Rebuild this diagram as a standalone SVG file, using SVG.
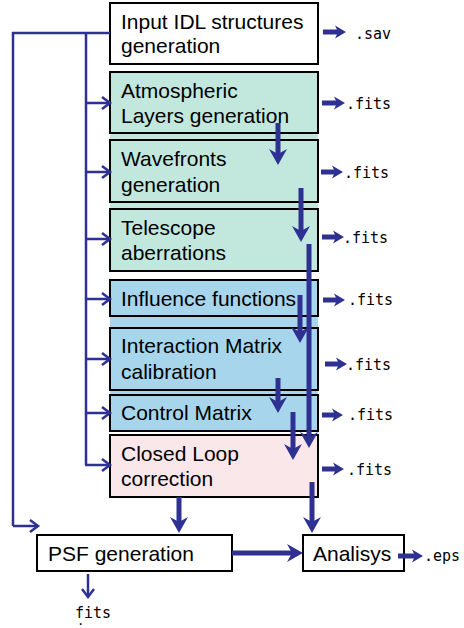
<svg xmlns="http://www.w3.org/2000/svg" width="464" height="628" viewBox="0 0 464 628">
<style>
.box{stroke:#000;stroke-width:2}
.lbl{font-family:"Liberation Sans",Arial,sans-serif;font-size:21px;fill:#000}
.out{font-family:"DejaVu Sans Mono","Liberation Mono",monospace;font-size:15px;fill:#000}
.thin{stroke:#2e3192;stroke-width:2.5;fill:none}
.thick{stroke:#2e3192;stroke-width:5;fill:none;marker-end:url(#big)}
.o{stroke:#2e3192;stroke-width:5;fill:none;marker-end:url(#sm)}
.ta{stroke:#2e3192;stroke-width:2.5;fill:none;marker-end:url(#open)}
</style>
<defs>
<marker id="big" markerUnits="userSpaceOnUse" markerWidth="20" markerHeight="20" refX="5" refY="0" orient="auto" overflow="visible" viewBox="0 -10 20 20">
<path d="M0,-9 L16,0 L0,9 L5,0 Z" fill="#2e3192"/>
</marker>
<marker id="sm" markerUnits="userSpaceOnUse" markerWidth="14" markerHeight="14" refX="3" refY="0" orient="auto" overflow="visible" viewBox="0 -7 14 14">
<path d="M0,-6.5 L11,0 L0,6.5 L3,0 Z" fill="#2e3192"/>
</marker>
<marker id="open" markerUnits="userSpaceOnUse" markerWidth="12" markerHeight="14" refX="0" refY="0" orient="auto" overflow="visible" viewBox="-10 -7 12 14">
<path d="M-8,-6 L0,0 L-8,6" fill="none" stroke="#2e3192" stroke-width="2.5"/>
</marker>
</defs>
<rect x="110" y="72" width="208" height="199" fill="#c2e8de"/>
<rect x="110" y="280" width="208" height="151" fill="#a6d5ec"/>
<g id="n-input"><rect class="box" x="110" y="3" width="208" height="61" fill="#fff"/><text class="lbl" x="121" y="29">Input IDL structures</text><text class="lbl" x="121" y="53">generation</text></g>
<g id="n-atm"><rect class="box" x="110" y="72" width="208" height="61" fill="#c2e8de"/><text class="lbl" x="121" y="98">Atmospheric</text><text class="lbl" x="121" y="123">Layers generation</text></g>
<g id="n-wave"><rect class="box" x="110" y="140" width="208" height="62" fill="#c2e8de"/><text class="lbl" x="121" y="166">Wavefronts</text><text class="lbl" x="121" y="192">generation</text></g>
<g id="n-tel"><rect class="box" x="110" y="209" width="208" height="62" fill="#c2e8de"/><text class="lbl" x="121" y="235">Telescope</text><text class="lbl" x="121" y="260">aberrations</text></g>
<g id="n-inf"><rect class="box" x="110" y="280" width="208" height="36" fill="#a6d5ec"/><text class="lbl" x="121" y="306">Influence functions</text></g>
<g id="n-im"><rect class="box" x="110" y="328" width="208" height="62" fill="#a6d5ec"/><text class="lbl" x="121" y="353">Interaction Matrix</text><text class="lbl" x="121" y="379">calibration</text></g>
<g id="n-cm"><rect class="box" x="110" y="395" width="208" height="36" fill="#a6d5ec"/><text class="lbl" x="121" y="420">Control Matrix</text></g>
<g id="n-cl"><rect class="box" x="110" y="435" width="208" height="62" fill="#fae7ea"/><text class="lbl" x="121" y="461">Closed Loop</text><text class="lbl" x="121" y="486">correction</text></g>
<g id="n-psf"><rect class="box" x="37" y="535" width="195" height="36" fill="#fff"/><text class="lbl" x="48" y="561">PSF generation</text></g>
<g id="n-ana"><rect class="box" x="303" y="535" width="101" height="36" fill="#fff"/><text class="lbl" x="313" y="561">Analisys</text></g>
<g id="outputs">
<text class="out" x="355" y="39">.sav</text>
<text class="out" x="346" y="109">.fits</text>
<text class="out" x="344" y="178">.fits</text>
<text class="out" x="343" y="243">.fits</text>
<text class="out" x="348" y="305">.fits</text>
<text class="out" x="346" y="370">.fits</text>
<text class="out" x="348" y="420">.fits</text>
<text class="out" x="347" y="475">.fits</text>
<text class="out" x="424" y="561">.eps</text>
<text class="out" x="75" y="618">fits<tspan x="77" dy="7" font-size="12">.</tspan></text>
</g>
<g id="connectors">
<polyline class="thin" points="110,33 13,33 13,526"/>
<line class="ta" x1="13" y1="526" x2="38" y2="526"/>
<line class="thin" x1="86" y1="33" x2="86" y2="465"/>
<line class="ta" x1="86" y1="103" x2="110" y2="103"/>
<line class="ta" x1="86" y1="172" x2="110" y2="172"/>
<line class="ta" x1="86" y1="239" x2="110" y2="239"/>
<line class="ta" x1="86" y1="299" x2="110" y2="299"/>
<line class="ta" x1="86" y1="359" x2="110" y2="359"/>
<line class="ta" x1="86" y1="413" x2="110" y2="413"/>
<line class="ta" x1="85" y1="465" x2="110" y2="465"/>
<line class="ta" x1="88" y1="574" x2="88" y2="597"/>
<line class="thick" x1="278" y1="123" x2="278" y2="154"/>
<line class="thick" x1="301" y1="188" x2="301" y2="231"/>
<line class="thick" x1="309" y1="244" x2="309" y2="437"/>
<line class="thick" x1="300" y1="295" x2="300" y2="332"/>
<line class="thick" x1="278" y1="378" x2="278" y2="402"/>
<line class="thick" x1="293" y1="412" x2="293" y2="449"/>
<line class="thick" x1="179" y1="497" x2="179" y2="522"/>
<line class="thick" x1="312" y1="482" x2="312" y2="522"/>
<line class="thick" x1="232" y1="553" x2="292" y2="553"/>
<line class="o" x1="323" y1="32" x2="338" y2="32"/>
<line class="o" x1="322" y1="103" x2="337" y2="103"/>
<line class="o" x1="321" y1="172" x2="335" y2="172"/>
<line class="o" x1="322" y1="237" x2="336" y2="237"/>
<line class="o" x1="323" y1="300" x2="337" y2="300"/>
<line class="o" x1="325" y1="364" x2="339" y2="364"/>
<line class="o" x1="322" y1="415" x2="335" y2="415"/>
<line class="o" x1="322" y1="469" x2="336" y2="469"/>
<line class="o" x1="398" y1="556" x2="415" y2="556"/>
</g>
</svg>
